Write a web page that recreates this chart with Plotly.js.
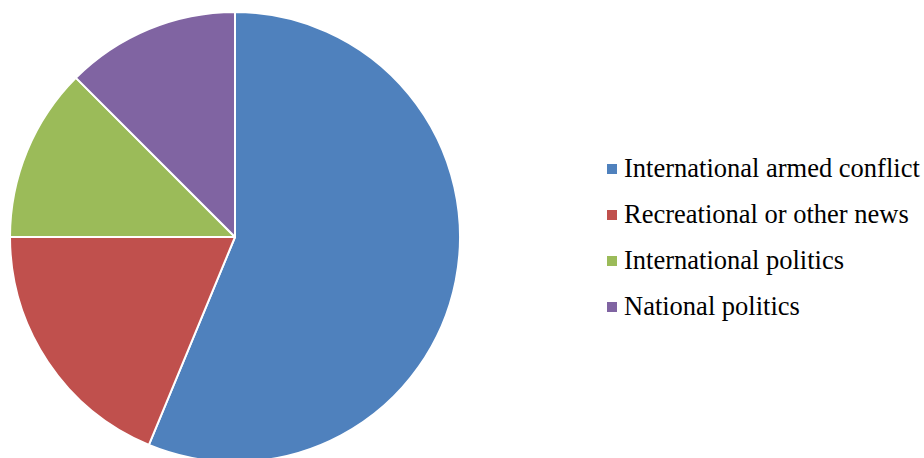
<!DOCTYPE html>
<html>
<head>
<meta charset="utf-8">
<script src="https://cdn.plot.ly/plotly-3.0.1.min.js"></script>
<style>
html, body { margin: 0; padding: 0; overflow: hidden; background: #fff; }
#chart { width: 924px; height: 466px; }
</style>
</head>
<body>
<div id="chart"></div>
<script>
// Data
const categories = ["International armed conflict", "Recreational or other news", "International politics", "National politics"];
const values = [9, 3, 2, 2];
const colors = ["#4F81BD", "#C0504D", "#9BBB59", "#8064A2"];

// Layout helpers (pixel -> paper)
const W = 924, H = 466;
const px = x => x / W;
const py = y => 1 - y / H;

const trace = {
  type: "pie",
  labels: categories,
  values: values,
  sort: false,
  direction: "clockwise",
  rotation: 0,
  textinfo: "none",
  hoverinfo: "label+percent",
  marker: { colors: colors, line: { color: "#FFFFFF", width: 2 } },
  domain: { x: [px(10), px(460)], y: [py(462), py(12)] },
  showlegend: false
};

const rowTop = 169, rowGap = 46;
const shapes = [], annotations = [];
categories.forEach((c, i) => {
  const cy = rowTop + i * rowGap;
  shapes.push({
    type: "rect", xref: "paper", yref: "paper",
    x0: px(607), x1: px(617), y0: py(cy + 5), y1: py(cy - 5),
    fillcolor: colors[i], line: { width: 0 }
  });
  annotations.push({
    xref: "paper", yref: "paper",
    x: px(622), y: py(cy - 1),
    xanchor: "left", yanchor: "middle",
    text: c, showarrow: false,
    font: { family: "Liberation Serif, Times New Roman, serif", size: 26.5, color: "#000" }
  });
});

const layout = {
  width: W, height: H,
  margin: { l: 0, r: 0, t: 0, b: 0 },
  paper_bgcolor: "#FFFFFF",
  showlegend: false,
  shapes: shapes,
  annotations: annotations
};

Plotly.newPlot("chart", [trace], layout, { displayModeBar: false, staticPlot: true });
</script>
</body>
</html>
